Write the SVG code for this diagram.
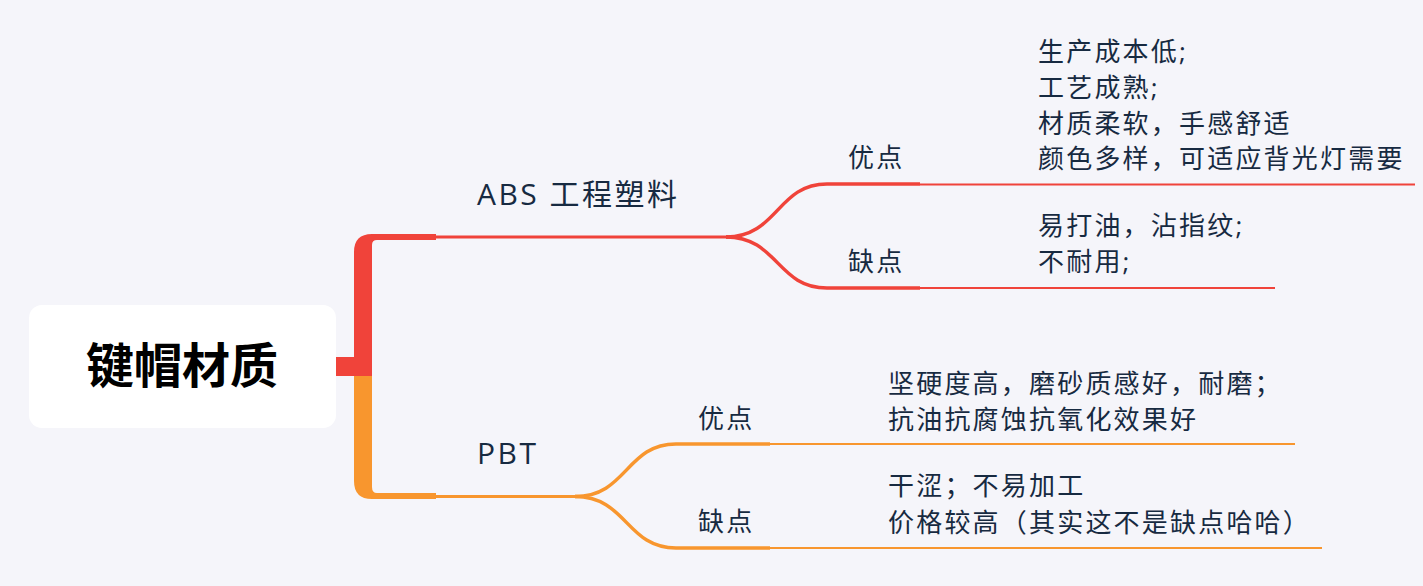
<svg xmlns="http://www.w3.org/2000/svg" width="1423" height="586" viewBox="0 0 1423 586">
<style>
.t{font-family:"Open Sans","Noto Sans CJK SC",sans-serif;fill:#172a41}
.topic{font-size:30px;letter-spacing:2.5px}
.sub{font-size:26px;letter-spacing:2.2px}
.root{font-family:"Noto Sans CJK SC","Noto Sans",sans-serif;font-size:48px;font-weight:bold;fill:#000}
.r{stroke:#f0433a;fill:none}
.o{stroke:#f8962e;fill:none}
.thick{stroke-width:3.5}
.thin{stroke-width:2.2}
.main{stroke-width:3}
</style>
<rect width="1423" height="586" fill="#f5f5fa"/>
<g id="connectors">
<path d="M336,357 H354 V252 Q354,234 372,234 H436 V240 H377 Q372,240 372,245 V376 H336 Z" fill="#f0433a"/>
<path d="M354,376 H372 V487 Q372,493 377,493 H436 V499 H372 Q354,499 354,481 Z" fill="#f8962e"/>
<path class="r main" d="M436,237 H728"/>
<path class="r thick" d="M726,237 C778,237 777,184 827,184 H920"/>
<path class="r thick" d="M726,237 C778,237 777,288 827,288 H920"/>
<path class="r thin" d="M920,184.5 H1415"/>
<path class="r thin" d="M920,288 H1275"/>
<path class="o main" d="M436,496.5 H577"/>
<path class="o thick" d="M575,496.5 C627,496.5 626,444 676,444 H770"/>
<path class="o thick" d="M575,496.5 C627,496.5 626,548 676,548 H770"/>
<path class="o thin" d="M770,444 H1295"/>
<path class="o thin" d="M770,548 H1322"/>
</g>
<g id="root">
<rect x="29" y="305" width="307" height="123" rx="13" fill="#fff"/>
<text class="root" x="182" y="383" text-anchor="middle">键帽材质</text>
</g>
<g id="abs">
<text class="t topic" x="477" y="205">ABS 工程塑料</text>
</g>
<g id="abs-pros">
<text class="t sub" x="848" y="167">优点</text>
</g>
<g id="abs-pros-text">
<text class="t sub" x="1038" y="61">生产成本低;</text>
<text class="t sub" x="1038" y="97">工艺成熟;</text>
<text class="t sub" x="1038" y="132.5">材质柔软，手感舒适</text>
<text class="t sub" x="1038" y="168">颜色多样，可适应背光灯需要</text>
</g>
<g id="abs-cons">
<text class="t sub" x="848" y="271">缺点</text>
</g>
<g id="abs-cons-text">
<text class="t sub" x="1038" y="235">易打油，沾指纹;</text>
<text class="t sub" x="1038" y="271">不耐用;</text>
</g>
<g id="pbt">
<text class="t topic" x="477" y="464">PBT</text>
</g>
<g id="pbt-pros">
<text class="t sub" x="698" y="428">优点</text>
</g>
<g id="pbt-pros-text">
<text class="t sub" x="888" y="393">坚硬度高，磨砂质感好，耐磨；</text>
<text class="t sub" x="888" y="429">抗油抗腐蚀抗氧化效果好</text>
</g>
<g id="pbt-cons">
<text class="t sub" x="698" y="531">缺点</text>
</g>
<g id="pbt-cons-text">
<text class="t sub" x="888" y="495">干涩；不易加工</text>
<text class="t sub" x="888" y="532">价格较高（其实这不是缺点哈哈）</text>
</g>
</svg>
